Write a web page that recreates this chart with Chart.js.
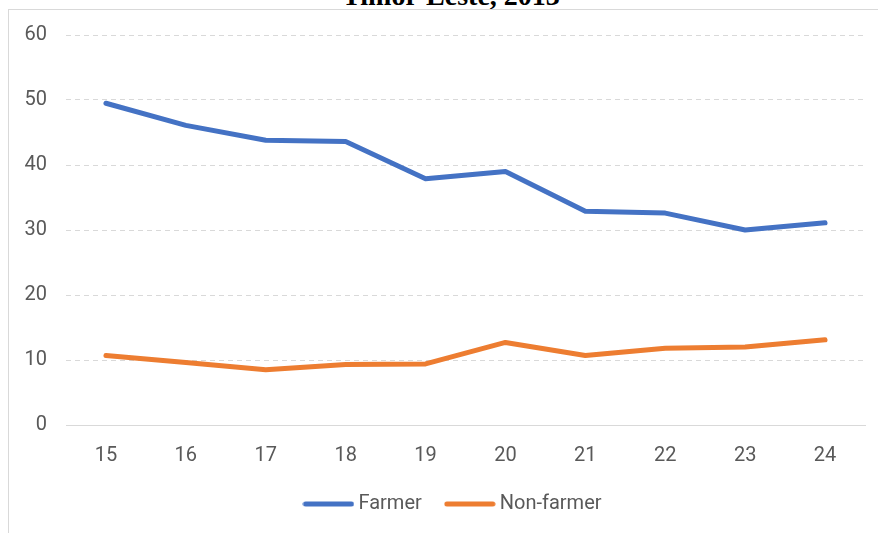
<!DOCTYPE html>
<html>
<head>
<meta charset="utf-8">
<script src="https://cdn.jsdelivr.net/npm/chart.js@4/dist/chart.umd.min.js"></script>
<style>
  html, body { margin: 0; padding: 0; background: #fff; overflow: hidden; }
  body { width: 878px; height: 533px; position: relative; }
  #title {
    position: absolute; left: 0; width: 902px; top: -18px;
    text-align: center; font: bold 28px "Liberation Serif", "Times New Roman", serif;
    line-height: 28px; color: #000; white-space: nowrap;
  }
  #frame {
    position: absolute; left: 8px; top: 9px; width: 900px; height: 560px;
    border-left: 1px solid #d9d9d9; border-top: 1px solid #d9d9d9;
  }
  #wrap { position: absolute; left: 0; top: -6px; width: 869px; height: 520px; }
</style>
</head>
<body>
<div id="title">Timor-Leste, 2013</div>
<div id="frame">
  <div id="wrap"><canvas id="chart"></canvas></div>
</div>
<script>
const ages = ['15', '16', '17', '18', '19', '20', '21', '22', '23', '24'];
const farmer = [49.5, 46.1, 43.8, 43.6, 37.9, 39.0, 32.9, 32.6, 30.0, 31.1];
const nonFarmer = [10.7, 9.6, 8.5, 9.3, 9.4, 12.7, 10.7, 11.8, 12.0, 13.1];
const yTicks = [0, 10, 20, 30, 40, 50, 60];

const tickFont = { family: 'Roboto', size: 20 };
const grey = '#595959';

// short thick line used as the legend swatch
function swatch(color) {
  const c = document.createElement('canvas');
  c.width = 52;
  c.height = 6;
  const g = c.getContext('2d');
  g.strokeStyle = color;
  g.lineWidth = 5;
  g.lineCap = 'round';
  g.beginPath();
  g.moveTo(3, 3);
  g.lineTo(49, 3);
  g.stroke();
  return c;
}

// legend sits a little right of the canvas centre
const legendNudge = {
  id: 'legendNudge',
  afterLayout(chart) {
    chart.legend.left += 18;
    chart.legend.right += 18;
  }
};

const series = [
  { label: 'Farmer', data: farmer, color: '#4472c4' },
  { label: 'Non-farmer', data: nonFarmer, color: '#ed7d31' }
];

new Chart(document.getElementById('chart'), {
  type: 'line',
  data: {
    labels: ages,
    datasets: series.map(s => ({
      label: s.label,
      data: s.data,
      borderColor: s.color,
      backgroundColor: s.color,
      borderWidth: 5,
      pointRadius: 0,
      pointStyle: swatch(s.color),
      borderCapStyle: 'round',
      borderJoinStyle: 'round',
      tension: 0
    }))
  },
  plugins: [legendNudge],
  options: {
    responsive: true,
    maintainAspectRatio: false,
    animation: false,
    layout: { padding: { top: 0, right: 13, left: 0, bottom: 0 } },
    plugins: {
      title: { display: false },
      tooltip: { enabled: false },
      legend: {
        position: 'bottom',
        labels: {
          color: grey,
          font: { family: 'Roboto', size: 20 },
          usePointStyle: true,
          pointStyleWidth: 40,
          padding: 28
        }
      }
    },
    scales: {
      x: {
        offset: true,
        grid: { display: false, drawTicks: false, offset: true },
        border: { display: true, color: '#d9d9d9', width: 1 },
        ticks: { color: grey, font: tickFont, padding: 19 },
        afterFit: (scale) => { scale.height = 41; }
      },
      y: {
        min: 0,
        max: 60,
        afterBuildTicks: (scale) => { scale.ticks = yTicks.map(v => ({ value: v })); },
        grid: { color: '#d9d9d9', lineWidth: 1, drawTicks: false },
        border: { display: false, dash: [5, 4] },
        ticks: { color: grey, font: tickFont, padding: 19 },
        afterFit: (scale) => { scale.width = 57; }
      }
    }
  }
});
</script>
</body>
</html>
